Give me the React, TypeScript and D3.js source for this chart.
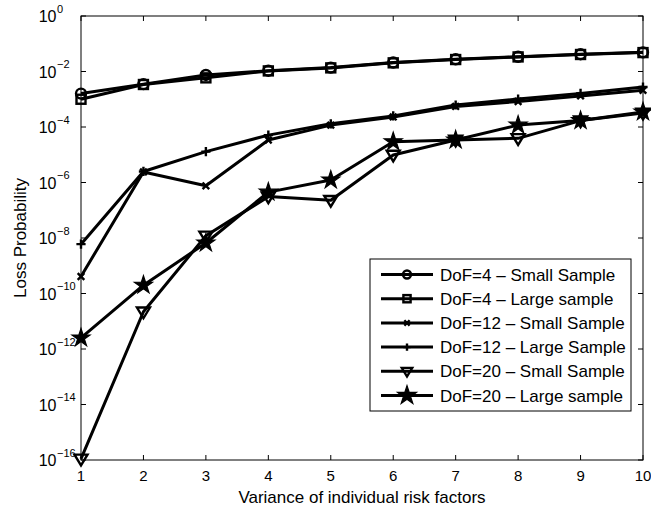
import { scaleLinear, scaleLog, line, symbol, symbolStar, range } from "d3"

// variance of individual risk factors
const variances = [1, 2, 3, 4, 5, 6, 7, 8, 9, 10]

// loss probabilities
const dof4Small = [1.6e-3, 3.5e-3, 7.5e-3, 1.07e-2, 1.38e-2, 2.1e-2, 2.75e-2, 3.4e-2, 4.2e-2, 4.9e-2]
const dof4Large = [1.0e-3, 3.4e-3, 5.9e-3, 1.05e-2, 1.35e-2, 2.05e-2, 2.7e-2, 3.35e-2, 4.1e-2, 4.8e-2]
const dof12Small = [4.1e-10, 2.4e-6, 7.6e-7, 3.4e-5, 1.17e-4, 2.3e-4, 5.5e-4, 8.3e-4, 1.32e-3, 2.1e-3]
const dof12Large = [6.0e-9, 2.5e-6, 1.3e-5, 5.1e-5, 1.3e-4, 2.5e-4, 6.2e-4, 1.02e-3, 1.62e-3, 2.75e-3]
const dof20Small = [1.1e-16, 2.2e-11, 1.2e-8, 3.1e-7, 2.3e-7, 9.8e-6, 3.4e-5, 3.9e-5, 1.7e-4, 3.2e-4]
const dof20Large = [2.5e-12, 2.0e-10, 6.6e-9, 4.5e-7, 1.23e-6, 2.95e-5, 3.4e-5, 1.17e-4, 1.7e-4, 3.5e-4]

const legendLabels = [
    "DoF=4 \u2013 Small Sample",
    "DoF=4 \u2013 Large sample",
    "DoF=12 \u2013 Small Sample",
    "DoF=12 \u2013 Large Sample",
    "DoF=20 \u2013 Small Sample",
    "DoF=20 \u2013 Large sample",
]
const yTickExponents = [0, -2, -4, -6, -8, -10, -12, -14, -16]

type MarkerKind = "circle" | "square" | "x" | "plus" | "triangle" | "star"

const series: { values: number[]; marker: MarkerKind }[] = [
    { values: dof4Small, marker: "circle" },
    { values: dof4Large, marker: "square" },
    { values: dof12Small, marker: "x" },
    { values: dof12Large, marker: "plus" },
    { values: dof20Small, marker: "triangle" },
    { values: dof20Large, marker: "star" },
]

const W = 651
const H = 508
const left = 81
const right = 643
const top = 16
const bottom = 460
const font = "'Liberation Sans', Arial, Helvetica, sans-serif"

function Marker({ kind, cx, cy, scale = 1 }: { kind: MarkerKind; cx: number; cy: number; scale?: number }) {
    const sw = 2.4
    if (kind === "circle") {
        return <circle cx={cx} cy={cy} r={5 * scale} fill="none" stroke="black" strokeWidth={sw} />
    }
    if (kind === "square") {
        const s = 4.5 * scale
        return <rect x={cx - s} y={cy - s} width={2 * s} height={2 * s} fill="none" stroke="black" strokeWidth={sw} />
    }
    if (kind === "x") {
        const s = 3.3 * scale
        return <path d={`M${cx - s},${cy - s}L${cx + s},${cy + s}M${cx - s},${cy + s}L${cx + s},${cy - s}`} stroke="black" strokeWidth={sw} />
    }
    if (kind === "plus") {
        const s = 4.6 * scale
        return <path d={`M${cx - s},${cy}L${cx + s},${cy}M${cx},${cy - s}L${cx},${cy + s}`} stroke="black" strokeWidth={sw} />
    }
    if (kind === "triangle") {
        const s = 6.5 * scale
        return <path d={`M${cx - s},${cy - s * 0.65}L${cx + s},${cy - s * 0.65}L${cx},${cy + s}Z`} fill="none" stroke="black" strokeWidth={sw} />
    }
    const d = symbol(symbolStar, 100 * scale * scale)() as string
    return <path d={d} transform={`translate(${cx},${cy})`} fill="black" stroke="black" strokeWidth={1.2} />
}

export default function App() {
    const x = scaleLinear().domain([1, 10]).range([left, right])
    const y = scaleLog().domain([1e-16, 1]).range([bottom, top])

    const path = line<number>()
        .x((_, i) => x(variances[i]))
        .y(d => y(d))

    const legX = 370
    const legY = 259
    const legW = 261
    const legH = 152
    const rowY = (i: number) => legY + 15.5 + i * 24.2

    return (
        <svg width={W} height={H} style={{ position: "absolute", left: 0, top: 0, background: "white" }}>
            <rect x={0} y={0} width={W} height={H} fill="white" />

            {/* axes box */}
            <rect x={left} y={top} width={right - left} height={bottom - top} fill="none" stroke="black" strokeWidth={1} />

            {/* x ticks */}
            {variances.map(v => (
                <g key={`xt${v}`}>
                    <line x1={x(v)} x2={x(v)} y1={bottom} y2={bottom - 5} stroke="black" />
                    <line x1={x(v)} x2={x(v)} y1={top} y2={top + 5} stroke="black" />
                    <text x={x(v)} y={bottom + 20.5} textAnchor="middle" fontFamily={font} fontSize={15}>{v}</text>
                </g>
            ))}

            {/* y ticks */}
            {yTickExponents.map(e => {
                const yy = y(Math.pow(10, e))
                return (
                    <g key={`yt${e}`}>
                        <line x1={left} x2={left + 5} y1={yy} y2={yy} stroke="black" />
                        <line x1={right} x2={right - 5} y1={yy} y2={yy} stroke="black" />
                        <text x={left - 24.5} y={yy + 6} textAnchor="end" fontFamily={font} fontSize={16}>10</text>
                        <text x={left - 24} y={yy - 3.5} textAnchor="start" fontFamily={font} fontSize={11}>
                            {e === 0 ? "0" : `\u2212${-e}`}
                        </text>
                    </g>
                )
            })}

            {/* series lines */}
            {series.map((s, i) => (
                <path key={`l${i}`} d={path(s.values) as string} fill="none" stroke="black" strokeWidth={3} strokeLinejoin="round" />
            ))}

            {/* markers */}
            {series.map((s, i) => (
                <g key={`m${i}`}>
                    {s.values.map((v, j) => (
                        <Marker key={j} kind={s.marker} cx={x(variances[j])} cy={y(v)} />
                    ))}
                </g>
            ))}

            {/* axis labels */}
            <text x={(left + right) / 2} y={503} textAnchor="middle" fontFamily={font} fontSize={17}>
                Variance of individual risk factors
            </text>
            <text transform={`translate(26,${(top + bottom) / 2}) rotate(-90)`} textAnchor="middle" fontFamily={font} fontSize={17}>
                Loss Probability
            </text>

            {/* legend */}
            <rect x={legX} y={legY} width={legW} height={legH} fill="white" stroke="black" strokeWidth={1} />
            {range(series.length).map(i => (
                <g key={`lg${i}`}>
                    <line x1={legX + 11} x2={legX + 63} y1={rowY(i)} y2={rowY(i)} stroke="black" strokeWidth={3} />
                    <Marker kind={series[i].marker} cx={legX + 37} cy={rowY(i)} scale={series[i].marker === "star" ? 1.05 : 0.8} />
                    <text x={legX + 70} y={rowY(i) + 6} fontFamily={font} fontSize={17}>{legendLabels[i]}</text>
                </g>
            ))}
        </svg>
    )
}
